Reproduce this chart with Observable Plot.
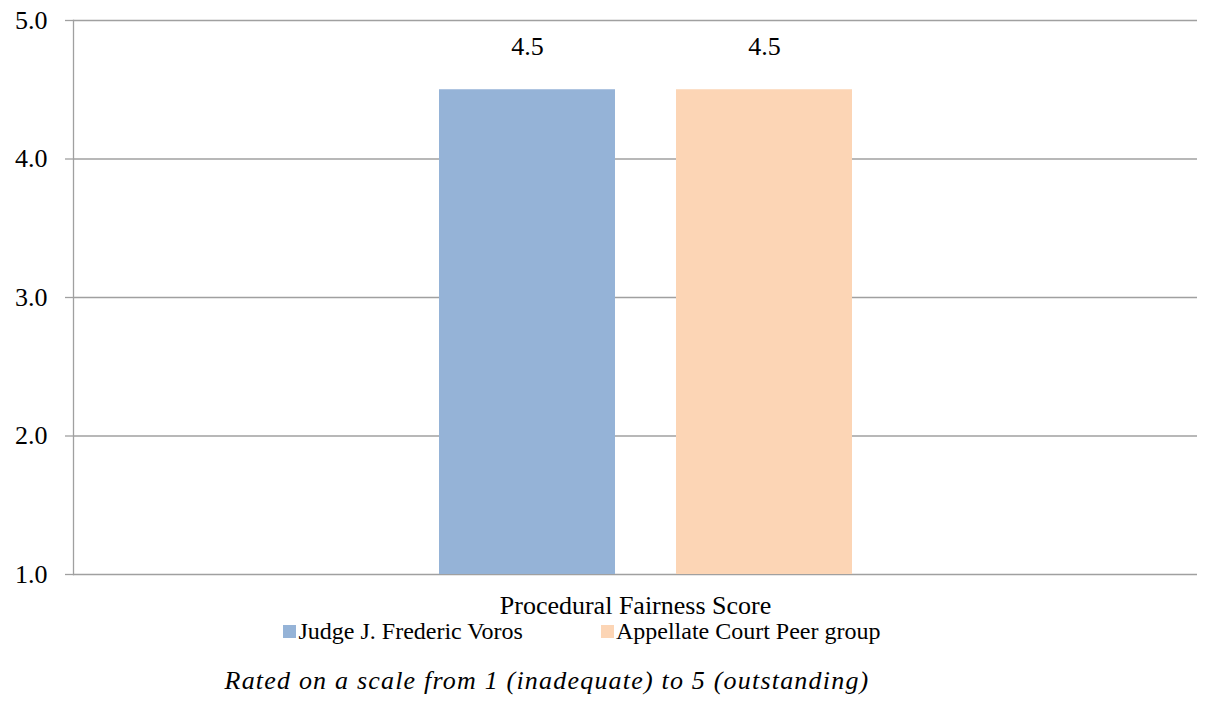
<!DOCTYPE html>
<html>
<head>
<meta charset="utf-8">
<script src="https://cdn.jsdelivr.net/npm/d3@7"></script>
<script src="https://cdn.jsdelivr.net/npm/@observablehq/plot@0.6"></script>
<style>
  body { margin: 0; background: white; font-family: "Liberation Serif", Tinos, "Times New Roman", Times, "DejaVu Serif", serif; }
  #wrap { position: relative; width: 1210px; height: 727px; }
  #legend { position: absolute; left: 0; top: 616px; width: 1164px; padding-right: 46px; height: 30px; line-height: 30px; font-size: 24px; display: flex; justify-content: center; align-items: center; }
  .item { display: flex; align-items: center; margin: 0 39px; }
  .sw { width: 13px; height: 13px; margin-right: 2px; }
  #caption { position: absolute; left: 0; top: 666px; width: 1094px; padding-right: 116px; line-height: 30px; text-align: center; font-style: italic; font-size: 26px; letter-spacing: 1.2px; }
  svg text { font-family: "Liberation Serif", Tinos, "Times New Roman", Times, "DejaVu Serif", serif; }
</style>
</head>
<body>
<div id="wrap">
  <div id="chart"></div>
  <div id="legend"></div>
  <div id="caption"></div>
</div>
<script>
const category = "Procedural Fairness Score";
const series = ["Judge J. Frederic Voros", "Appellate Court Peer group"];
const values = [4.5, 4.5];
const colors = ["#95B3D7", "#FCD5B5"];
const yTicks = [1, 2, 3, 4, 5];
const captionText = "Rated on a scale from 1 (inadequate) to 5 (outstanding)";

const data = series.map((s, i) => ({series: s, value: values[i]}));

const chart = Plot.plot({
  width: 1210,
  height: 620,
  marginLeft: 73,
  marginRight: 13,
  marginTop: 20,
  marginBottom: 46,
  style: {fontSize: "24px", color: "black", background: "white", overflow: "visible"},
  x: {type: "band", domain: series, range: [438, 853], paddingInner: 0.256, paddingOuter: 0, axis: null},
  y: {domain: [1, 5], axis: null},
  color: {domain: series, range: colors},
  marks: [
    Plot.ruleY(yTicks, {stroke: "#a0a0a0", strokeWidth: 1.3}),
    Plot.frame({anchor: "left", stroke: "#a0a0a0", strokeWidth: 1.3}),
    Plot.axisY({ticks: yTicks, tickFormat: d3.format(".1f"), tickSize: 8, tickPadding: 18, label: null, stroke: "#a0a0a0", strokeWidth: 1.3, fontSize: 26, fill: "black", strokeOpacity: 1}),
    Plot.barY(data, {x: "series", y1: 1, y2: "value", fill: "series"}),
    Plot.text(data, {x: "series", y: "value", text: d => d3.format(".1f")(d.value), dy: -43, fontSize: 26, fill: "black"}),
    Plot.text([category], {frameAnchor: "bottom", text: d => d, dy: 39, fontSize: 26, fill: "black"})
  ]
});
document.getElementById("chart").appendChild(chart);

const legend = document.getElementById("legend");
series.forEach((s, i) => {
  const item = document.createElement("div");
  item.className = "item";
  const sw = document.createElement("div");
  sw.className = "sw";
  sw.style.background = colors[i];
  const t = document.createElement("span");
  t.textContent = s;
  item.appendChild(sw);
  item.appendChild(t);
  legend.appendChild(item);
});
document.getElementById("caption").textContent = captionText;
</script>
</body>
</html>
